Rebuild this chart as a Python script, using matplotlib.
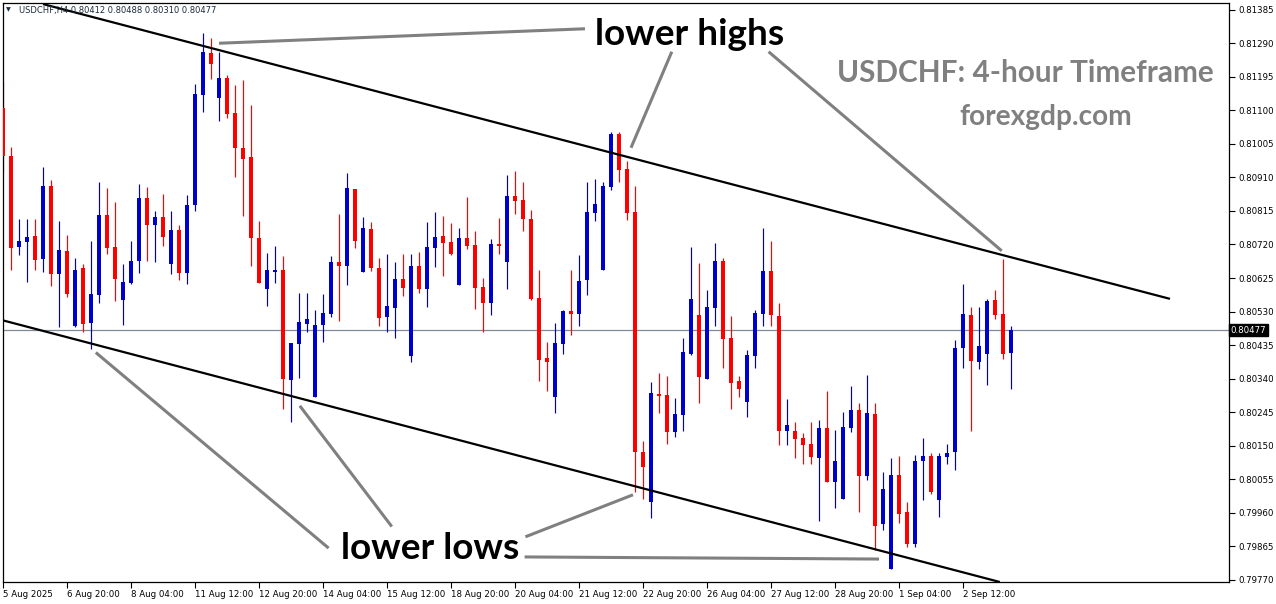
import matplotlib
matplotlib.use("Agg")
import matplotlib.pyplot as plt
from matplotlib.transforms import blended_transform_factory
import numpy as np

W, H, DPI = 1276, 604, 100

symbol = "USDCHF,H4"

# 4-hour OHLC candles
opens = [0.81106, 0.80971, 0.80714, 0.80728, 0.80744, 0.80680, 0.80886, 0.80635, 0.80702, 0.80490,
         0.80652, 0.80499, 0.80578, 0.80804, 0.80713, 0.80564, 0.80612, 0.80672, 0.80852, 0.80776,
         0.80798, 0.80666, 0.80761, 0.80640, 0.80833, 0.81142, 0.81263, 0.81136, 0.81192, 0.81093,
         0.80994, 0.80968, 0.80739, 0.80595, 0.80643, 0.80648, 0.80337, 0.80439, 0.80496, 0.80289,
         0.80491, 0.80523, 0.80671, 0.80660, 0.80878, 0.80643, 0.80764, 0.80654, 0.80516, 0.80541,
         0.80623, 0.80403, 0.80659, 0.80595, 0.80711, 0.80744, 0.80727, 0.80604, 0.80739, 0.80719,
         0.80600, 0.80555, 0.80722, 0.80669, 0.80858, 0.80846, 0.80793, 0.80569, 0.80399, 0.80289,
         0.80439, 0.80532, 0.80524, 0.80618, 0.80810, 0.80649, 0.80884, 0.81033, 0.80934, 0.80812,
         0.80131, 0.79992, 0.80297, 0.80294, 0.80190, 0.80238, 0.80411, 0.80521, 0.80340, 0.80541,
         0.80674, 0.80456, 0.80334, 0.80275, 0.80405, 0.80524, 0.80645, 0.80518, 0.80193, 0.80192,
         0.80172, 0.80155, 0.80116, 0.80201, 0.80046, 0.80000, 0.80201, 0.80252, 0.80065, 0.80240,
         0.79927, 0.79802, 0.80067, 0.79963, 0.79873, 0.80108, 0.80121, 0.79995, 0.80119, 0.80131,
         0.80428, 0.80521, 0.80388, 0.80411, 0.80563, 0.80523, 0.80412]
highs = [0.81181, 0.80997, 0.80793, 0.80793, 0.80793, 0.80940, 0.80903, 0.80787, 0.80747, 0.80682,
         0.80665, 0.80730, 0.80897, 0.80881, 0.80841, 0.80665, 0.80730, 0.80892, 0.80884, 0.80815,
         0.80863, 0.80815, 0.80776, 0.80861, 0.81175, 0.81319, 0.81305, 0.81266, 0.81200, 0.81172,
         0.81186, 0.81116, 0.80787, 0.80696, 0.80716, 0.80688, 0.80441, 0.80583, 0.80583, 0.80535,
         0.80581, 0.80688, 0.80807, 0.80923, 0.80878, 0.80798, 0.80785, 0.80682, 0.80693, 0.80671,
         0.80693, 0.80693, 0.80699, 0.80784, 0.80812, 0.80801, 0.80781, 0.80767, 0.80855, 0.80759,
         0.80626, 0.80736, 0.80795, 0.80917, 0.80929, 0.80897, 0.80818, 0.80648, 0.80445, 0.80499,
         0.80535, 0.80648, 0.80691, 0.80897, 0.80906, 0.80897, 0.81039, 0.81039, 0.80957, 0.80886,
         0.80162, 0.80331, 0.80356, 0.80348, 0.80286, 0.80456, 0.80713, 0.80668, 0.80591, 0.80725,
         0.80682, 0.80518, 0.80348, 0.80422, 0.80535, 0.80767, 0.80730, 0.80555, 0.80283, 0.80218,
         0.80186, 0.80218, 0.80223, 0.80305, 0.80195, 0.80246, 0.80320, 0.80271, 0.80351, 0.80271,
         0.80076, 0.80116, 0.80121, 0.79991, 0.80124, 0.80172, 0.80130, 0.80130, 0.80155, 0.80450,
         0.80608, 0.80543, 0.80543, 0.80566, 0.80591, 0.80679, 0.80488]
lows = [0.80924, 0.80649, 0.80691, 0.80615, 0.80649, 0.80643, 0.80601, 0.80485, 0.80570, 0.80485,
        0.80473, 0.80425, 0.80553, 0.80694, 0.80561, 0.80493, 0.80609, 0.80640, 0.80672, 0.80669,
        0.80717, 0.80635, 0.80618, 0.80609, 0.80816, 0.81094, 0.81190, 0.81071, 0.81077, 0.80912,
        0.80802, 0.80660, 0.80612, 0.80547, 0.80612, 0.80255, 0.80218, 0.80343, 0.80473, 0.80289,
        0.80445, 0.80515, 0.80504, 0.80606, 0.80711, 0.80643, 0.80646, 0.80490, 0.80473, 0.80454,
        0.80575, 0.80388, 0.80584, 0.80544, 0.80657, 0.80632, 0.80691, 0.80604, 0.80706, 0.80536,
        0.80471, 0.80519, 0.80694, 0.80595, 0.80805, 0.80757, 0.80564, 0.80332, 0.80306, 0.80244,
        0.80411, 0.80465, 0.80488, 0.80578, 0.80787, 0.80649, 0.80873, 0.80898, 0.80788, 0.80020,
        0.80000, 0.79946, 0.80244, 0.80156, 0.80176, 0.80193, 0.80408, 0.80272, 0.80340, 0.80488,
        0.80371, 0.80255, 0.80289, 0.80230, 0.80369, 0.80488, 0.80488, 0.80153, 0.80153, 0.80114,
        0.80099, 0.80097, 0.79938, 0.80046, 0.79975, 0.80000, 0.80190, 0.79961, 0.80054, 0.79856,
        0.79912, 0.79802, 0.79932, 0.79862, 0.79864, 0.79995, 0.80014, 0.79949, 0.80097, 0.80080,
        0.80371, 0.80193, 0.80366, 0.80323, 0.80510, 0.80397, 0.80310]
closes = [0.80971, 0.80711, 0.80730, 0.80742, 0.80676, 0.80886, 0.80635, 0.80705, 0.80581, 0.80649,
          0.80496, 0.80581, 0.80804, 0.80711, 0.80623, 0.80614, 0.80674, 0.80852, 0.80774, 0.80798,
          0.80742, 0.80761, 0.80640, 0.80832, 0.81147, 0.81266, 0.81232, 0.81192, 0.81091, 0.80992,
          0.80961, 0.80737, 0.80612, 0.80648, 0.80648, 0.80340, 0.80441, 0.80501, 0.80509, 0.80492,
          0.80526, 0.80671, 0.80660, 0.80880, 0.80731, 0.80767, 0.80652, 0.80513, 0.80546, 0.80623,
          0.80598, 0.80659, 0.80595, 0.80713, 0.80742, 0.80725, 0.80694, 0.80739, 0.80717, 0.80598,
          0.80553, 0.80722, 0.80717, 0.80858, 0.80844, 0.80791, 0.80567, 0.80394, 0.80388, 0.80441,
          0.80532, 0.80524, 0.80617, 0.80812, 0.80835, 0.80886, 0.81033, 0.80932, 0.80810, 0.80131,
          0.80091, 0.80300, 0.80292, 0.80190, 0.80240, 0.80416, 0.80566, 0.80346, 0.80543, 0.80674,
          0.80451, 0.80329, 0.80312, 0.80407, 0.80526, 0.80645, 0.80519, 0.80193, 0.80209, 0.80170,
          0.80153, 0.80119, 0.80201, 0.80046, 0.80107, 0.80203, 0.80252, 0.80065, 0.80243, 0.79924,
          0.80028, 0.80067, 0.79958, 0.79873, 0.80107, 0.80121, 0.80020, 0.80121, 0.80130, 0.80427,
          0.80523, 0.80391, 0.80433, 0.80560, 0.80519, 0.80411, 0.80477]

# time axis: one label every 8 bars
date_labels = ["5 Aug 2025", "6 Aug 20:00", "8 Aug 04:00", "11 Aug 12:00", "12 Aug 20:00",
               "14 Aug 04:00", "15 Aug 12:00", "18 Aug 20:00", "20 Aug 04:00", "21 Aug 12:00",
               "22 Aug 20:00", "26 Aug 04:00", "27 Aug 12:00", "28 Aug 20:00", "1 Sep 04:00",
               "2 Sep 12:00"]
label_step = 8

price_ticks = [0.79770, 0.79865, 0.79960, 0.80055, 0.80150, 0.80245, 0.80340, 0.80435, 0.80530,
               0.80625, 0.80720, 0.80815, 0.80910, 0.81005, 0.81100, 0.81195, 0.81290, 0.81385]

# channel trend lines: (bar index, price) anchors
upper_channel = [(5.0, 0.81401), (145.875, 0.80566)]
lower_channel = [(0.0, 0.80505), (124.6, 0.79764)]

# callout lines from the labels to the swing points
high_callouts = [[(27.0, 0.81290), (72.75, 0.81331)],
                 [(78.5, 0.80994), (83.6, 0.81266)],
                 [(95.7, 0.81266), (124.84, 0.80702)]]
low_callouts = [[(11.6, 0.80414), (40.7, 0.79860)],
                [(37.1, 0.80263), (48.6, 0.79921)],
                [(65.3, 0.79892), (78.75, 0.80011)],
                [(65.2, 0.79835), (109.5, 0.79829)]]

BULL = "#0000CD"
BEAR = "#FF0000"
GREY = "#808080"

plt.rcParams["font.family"] = ["DejaVu Sans"]

fig = plt.figure(figsize=(W / DPI, H / DPI), dpi=DPI, facecolor="white")
ax = fig.add_axes([3 / W, 1 - 582 / H, 1226 / W, 579 / H])
ax.set_facecolor("white")

o = np.array(opens)
h = np.array(highs)
l = np.array(lows)
c = np.array(closes)
x = np.arange(len(o))
up = c >= o
cols = np.where(up, BULL, BEAR)

ax.vlines(x, l, h, colors=cols, linewidth=0.85, zorder=2)
body_bottom = np.minimum(o, c)
body_height = np.maximum(np.abs(c - o), 0.00003)
ax.bar(x, body_height, bottom=body_bottom, width=0.62, color=cols, linewidth=0, zorder=3)

# current price line
ax.axhline(c[-1], color="#808a96", linewidth=0.9, zorder=1)

# channel
for seg in (upper_channel, lower_channel):
    (x0, y0), (x1, y1) = seg
    ax.plot([x0, x1], [y0, y1], color="black", linewidth=1.6, zorder=4, solid_capstyle="butt")

for seg in high_callouts + low_callouts:
    (x0, y0), (x1, y1) = seg
    ax.plot([x0, x1], [y0, y1], color=GREY, linewidth=2.2, zorder=5, solid_capstyle="butt")

ax.set_xlim(0, 153.25)
ax.set_ylim(0.79764, 0.81404)

for s in ax.spines.values():
    s.set_color("black")
    s.set_linewidth(0.9)

ax.yaxis.tick_right()
ax.set_yticks(price_ticks)
ax.set_yticklabels([f"{p:.5f}" for p in price_ticks])
ax.tick_params(axis="y", which="both", right=True, left=False, direction="out",
               length=4, width=0.8, pad=2.5, labelsize=6.2, colors="black")

ax.set_xticks(np.arange(len(date_labels)) * label_step)
ax.set_xticklabels(date_labels)
ax.tick_params(axis="x", direction="out", length=4, width=0.8, pad=2, labelsize=6.2,
               colors="black")
for lbl in ax.get_xticklabels():
    lbl.set_horizontalalignment("left")

# last price marker on the price scale
tr = blended_transform_factory(ax.transAxes, ax.transData)
ax.text(1.0015, c[-1], f"{c[-1]:.5f}", transform=tr, ha="left", va="center",
        fontsize=6.2, color="white", zorder=10, clip_on=False,
        bbox=dict(boxstyle="square,pad=0.18", facecolor="black", edgecolor="black"))

# chart header
fig.text(6 / W, 1 - 10 / H, "\u25BC", fontsize=4.5, va="center", ha="left", color="#1b2b3b")
fig.text(19 / W, 1 - 10.5 / H,
         f"{symbol} {opens[-1]:.5f} {highs[-1]:.5f} {lows[-1]:.5f} {closes[-1]:.5f}",
         fontsize=6, va="center", ha="left", color="#1b2b3b")


def fig_text(px, py, s, **kw):
    fig.text(px / W, 1 - py / H, s, **kw)


fig_text(690, 45, "lower highs", fontsize=26.6, fontweight="bold", family="Lato",
         ha="center", va="baseline", color="black")
fig_text(430, 559, "lower lows", fontsize=26.6, fontweight="bold", family="Lato",
         ha="center", va="baseline", color="black")
fig_text(1025.5, 81.5, "USDCHF: 4-hour Timeframe", fontsize=21.4, fontweight="bold",
         family="Lato", ha="center", va="baseline", color=GREY)
fig_text(1045.5, 125, "forexgdp.com", fontsize=20.2, fontweight="bold", family="Lato",
         ha="center", va="baseline", color=GREY)

fig.savefig("out.png", dpi=DPI, facecolor="white")
